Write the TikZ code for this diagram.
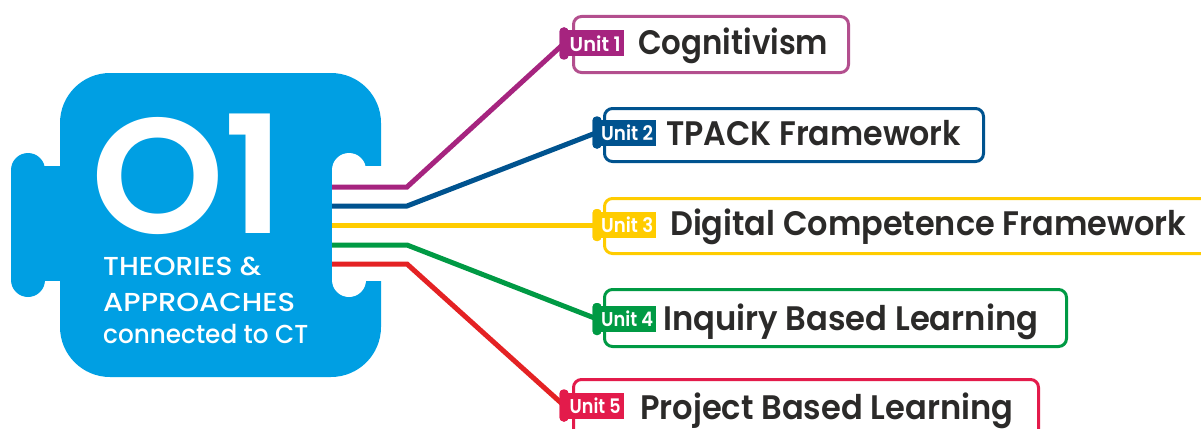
\documentclass[tikz,border=0pt]{standalone}
\usepackage{fontspec}
\usepackage{graphicx}
\setmainfont{Poppins}
\IfFontExistsTF{Poppins Medium}{\newfontfamily\popmed{Poppins Medium}}{\newfontfamily\popmed{Poppins}}
\IfFontExistsTF{Poppins SemiBold}{\newfontfamily\popsemi{Poppins SemiBold}}{\newfontfamily\popsemi{Poppins}[FakeBold=1.5]}
\usetikzlibrary{calc}
\newcommand{\fitw}[2]{\resizebox{#1}{\height}{#2}}
\definecolor{pieceblue}{HTML}{009FE3}
\definecolor{cpurple}{HTML}{A6247F}
\definecolor{cpurplebox}{HTML}{B34F8E}
\definecolor{cblue}{HTML}{00538F}
\definecolor{cyellow}{HTML}{FFCC00}
\definecolor{cgreen}{HTML}{009A44}
\definecolor{cred}{HTML}{E42224}
\definecolor{ccrimson}{HTML}{E31B4B}
\definecolor{txt}{HTML}{2B2A29}
\tikzset{
  conn/.style={line width=5pt, line join=miter},
  unitbox/.style={draw, line width=3pt, rounded corners=8pt, inner sep=0pt, anchor=north west},
  tabbump/.style={rounded corners=4pt, minimum width=9pt, minimum height=32pt, inner sep=0pt},
  tabrect/.style={minimum width=58pt, minimum height=26pt, inner sep=0pt, anchor=west, text=white, font=\popsemi\fontsize{20}{20}\selectfont},
  label/.style={anchor=base west, text=txt, inner sep=0pt, font=\popsemi\fontsize{34}{34}\selectfont},
  piecetxt/.style={anchor=base west, text=white, inner sep=0pt, font=\popmed\fontsize{26}{26}\selectfont}
}
\begin{document}
\begin{tikzpicture}[x=1pt,y=-1pt]
\useasboundingbox (0,0) rectangle (1201,428);
% puzzle piece
\fill[pieceblue, rounded corners=50pt] (60,73) rectangle (381,377);
\fill[pieceblue, rounded corners=17pt] (11,153) rectangle (45,297);
\fill[pieceblue] (30,166) rectangle (62,281);
\fill[white, rounded corners=17pt] (332,153) rectangle (366,297);
\fill[white] (350,166) rectangle (386,281);
\node[anchor=base west, text=white, inner sep=0pt, font=\popsemi\fontsize{164}{164}\selectfont] (big) at (91,233) {\fitw{194pt}{O1}};
\node[piecetxt] (th1) at (103,275) {\fitw{158pt}{THEORIES \&}};
\node[piecetxt] (th2) at (103,311) {\fitw{192pt}{APPROACHES}};
\node[piecetxt] (th3) at (103,343) {\fitw{205pt}{connected to CT}};
% start and bend points
\coordinate (s1) at (332,187); \coordinate (k1) at (407,187);
\coordinate (s2) at (332,206); \coordinate (k2) at (407,206);
\coordinate (s3) at (332,225);
\coordinate (s4) at (332,245); \coordinate (k4) at (407,245);
\coordinate (s5) at (332,264); \coordinate (k5) at (407,264);
% boxes
\node[unitbox, draw=cpurplebox, minimum width=275pt, minimum height=56pt] (b1) at (572,15) {};
\node[unitbox, draw=cblue, minimum width=379pt, minimum height=53pt] (b2) at (603,107) {};
\node[unitbox, draw=cyellow, minimum width=620pt, minimum height=55pt] (b3) at (603,197) {};
\node[unitbox, draw=cgreen, minimum width=462pt, minimum height=57pt] (b4) at (603,288) {};
\node[unitbox, draw=ccrimson, minimum width=465pt, minimum height=70pt] (b5) at (572,378) {};
% tab bumps
\node[tabbump, fill=cpurple] (p1) at (564,43.5) {};
\node[tabbump, fill=cblue] (p2) at (597,132.5) {};
\node[tabbump, fill=cyellow] (p3) at (597,225) {};
\node[tabbump, fill=cgreen] (p4) at (597,319) {};
\node[tabbump, fill=ccrimson] (p5) at (564,405.5) {};
% connectors
\draw[conn, cpurple] (s1) -- (k1) -- (p1.center);
\draw[conn, cblue] (s2) -- (k2) -- (p2.center);
\draw[conn, cyellow] (s3) -- (p3.center);
\draw[conn, cgreen] (s4) -- (k4) -- (p4.center);
\draw[conn, cred] (s5) -- (k5) -- (p5.center);
% redraw bumps over line ends
\node[tabbump, fill=cpurple] at (p1) {};
\node[tabbump, fill=cblue] at (p2) {};
\node[tabbump, fill=cyellow] at (p3) {};
\node[tabbump, fill=cgreen] at (p4) {};
\node[tabbump, fill=ccrimson] at (p5) {};
% tabs
\node[tabrect, fill=cpurple] (u1) at (566,43.5) {\fitw{51pt}{Unit 1}};
\node[tabrect, fill=cblue] (u2) at (598,132.5) {\fitw{52pt}{Unit 2}};
\node[tabrect, fill=cyellow] (u3) at (598,225) {\fitw{52pt}{Unit 3}};
\node[tabrect, fill=cgreen] (u4) at (598,319) {\fitw{52pt}{Unit 4}};
\node[tabrect, fill=ccrimson] (u5) at (566,405.5) {\fitw{51pt}{Unit 5}};
% labels
\node[label] (t1) at (638,55) {\fitw{190pt}{Cognitivism}};
\node[label] (t2) at (666,145) {\fitw{295pt}{TPACK Framework}};
\node[label] (t3) at (670,235) {\fitw{516pt}{Digital Competence Framework}};
\node[label] (t4) at (663,330) {\fitw{375pt}{Inquiry Based Learning}};
\node[label] (t5) at (640,419) {\fitw{373pt}{Project Based Learning}};
\end{tikzpicture}
\end{document}
